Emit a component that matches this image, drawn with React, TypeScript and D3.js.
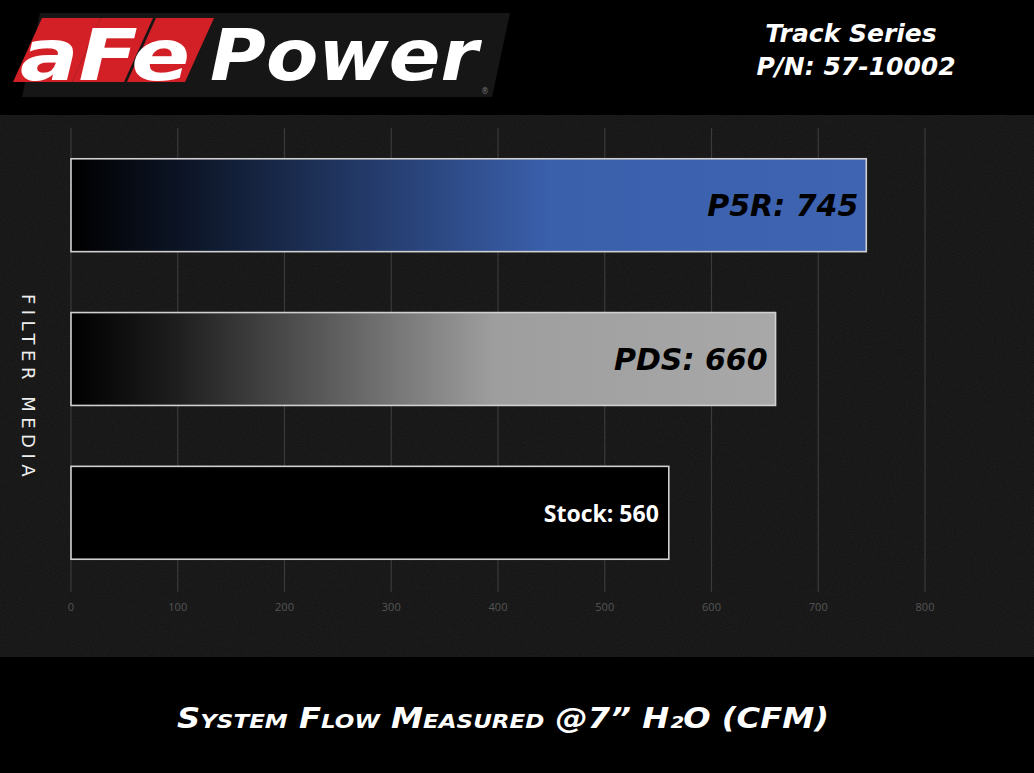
import React from "react";
import * as d3 from "d3";

const categories = ["P5R", "PDS", "Stock"];
const values = [745, 660, 560];
const tickValues = [0, 100, 200, 300, 400, 500, 600, 700, 800];
const barLabels = ["P5R: 745", "PDS: 660", "Stock: 560"];
const title1 = "Track Series";
const title2 = "P/N: 57-10002";
const xTitle = "System Flow Measured @7\u201D H\u2082O (CFM)";
const yTitle = "FILTER MEDIA";

const W = 1034;
const H = 773;

export default function App() {
  const x = d3.scaleLinear().domain([0, 800]).range([71, 925]);
  const y = d3.scaleBand<string>().domain(categories).range([128, 590]).paddingInner(0.396).paddingOuter(0.2);
  const fills = ["url(#gBlue)", "url(#gGray)", "#000"];
  const labelColors = ["#000", "#000", "#fff"];

  const skew = (x0: number, y0: number, x1: number, y1: number, s: number) =>
    `M${x0 + s},${y0} L${x1 + s},${y0} L${x1},${y1} L${x0},${y1} Z`;

  return (
    <svg width={W} height={H} style={{ display: "block", position: "absolute", left: 0, top: 0 }}>
      <defs>
        <linearGradient id="gBlue" x1="0" x2="1" y1="0" y2="0">
          <stop offset="0" stopColor="#000" />
          <stop offset="0.15" stopColor="#0d1628" />
          <stop offset="0.6" stopColor="#3a5fab" />
          <stop offset="1" stopColor="#3f64b2" />
        </linearGradient>
        <linearGradient id="gGray" x1="0" x2="1" y1="0" y2="0">
          <stop offset="0" stopColor="#000" />
          <stop offset="0.15" stopColor="#1e1e1e" />
          <stop offset="0.6" stopColor="#9e9e9e" />
          <stop offset="1" stopColor="#a8a8a8" />
        </linearGradient>
        <filter id="noise" x="0" y="0" width="100%" height="100%">
          <feTurbulence type="fractalNoise" baseFrequency="0.9" numOctaves="2" seed="3" />
          <feColorMatrix type="matrix" values="0 0 0 0 0.22  0 0 0 0 0.22  0 0 0 0 0.22  0 0 0 0.3 0" />
        </filter>
      </defs>
      <rect x={0} y={0} width={W} height={H} fill="#000" />
      <rect x={0} y={115} width={W} height={542} fill="#121212" />
      <rect x={0} y={115} width={W} height={542} filter="url(#noise)" opacity={0.45} />

      {/* logo */}
      <path d={skew(22, 13, 492, 97, 18)} fill="#161616" />
      <path d={skew(13, 18, 72, 82, 29)} fill="#d32027" />
      <path d={skew(72, 18, 124, 82, 29)} fill="#d32027" />
      <path d={skew(127, 18, 185, 82, 29)} fill="#d32027" />
      <text x={20} y={80} fill="#fff" fontFamily="DejaVu Sans" fontWeight="bold" fontStyle="italic" fontSize={72} textLength={170} lengthAdjust="spacingAndGlyphs">aFe</text>
      <text x={210} y={80} fill="#fff" fontFamily="DejaVu Sans" fontWeight="bold" fontStyle="italic" fontSize={72} textLength={268} lengthAdjust="spacingAndGlyphs">Power</text>
      <text x={481} y={94} fill="#777" fontFamily="DejaVu Sans" fontSize={8}>®</text>

      <text x={851} y={42} textAnchor="middle" fill="#fff" fontFamily="DejaVu Sans" fontWeight="bold" fontStyle="italic" fontSize={25}>{title1}</text>
      <text x={856} y={75} textAnchor="middle" fill="#fff" fontFamily="DejaVu Sans" fontWeight="bold" fontStyle="italic" fontSize={25}>{title2}</text>

      {/* gridlines */}
      {tickValues.map((t) => (
        <line key={"g" + t} x1={x(t)} x2={x(t)} y1={128} y2={592} stroke="#3a3a3a" strokeWidth={1.2} />
      ))}
      {tickValues.map((t) => (
        <text key={"t" + t} x={x(t)} y={611} textAnchor="middle" fill="#555" fontFamily="Open Sans" fontSize={11}>{t}</text>
      ))}

      {/* bars */}
      {categories.map((c, i) => (
        <g key={c}>
          <rect x={x(0)} y={y(c)!} width={x(values[i]) - x(0)} height={y.bandwidth()} fill={fills[i]} stroke="#d0d0d0" strokeWidth={1.6} />
          {i < 2 ? (
            <text x={x(values[i]) - 8} y={y(c)! + y.bandwidth() / 2 + 11} textAnchor="end" fill={labelColors[i]} fontFamily="DejaVu Sans" fontWeight="bold" fontStyle="italic" fontSize={30}>{barLabels[i]}</text>
          ) : (
            <text x={x(values[i]) - 10} y={y(c)! + y.bandwidth() / 2 + 9} textAnchor="end" fill={labelColors[i]} fontFamily="Open Sans" fontWeight="bold" fontSize={23}>{barLabels[i]}</text>
          )}
        </g>
      ))}

      <text transform="translate(22,388) rotate(90)" textAnchor="middle" fill="#eee" fontFamily="DejaVu Sans" fontSize={18} letterSpacing={5.5}>{yTitle}</text>

      <text x={503} y={728} textAnchor="middle" fill="#fff" fontFamily="DejaVu Sans" fontWeight="bold" fontStyle="italic" fontSize={28} style={{ fontVariant: "small-caps" }} textLength={652} lengthAdjust="spacingAndGlyphs">{xTitle}</text>
    </svg>
  );
}
